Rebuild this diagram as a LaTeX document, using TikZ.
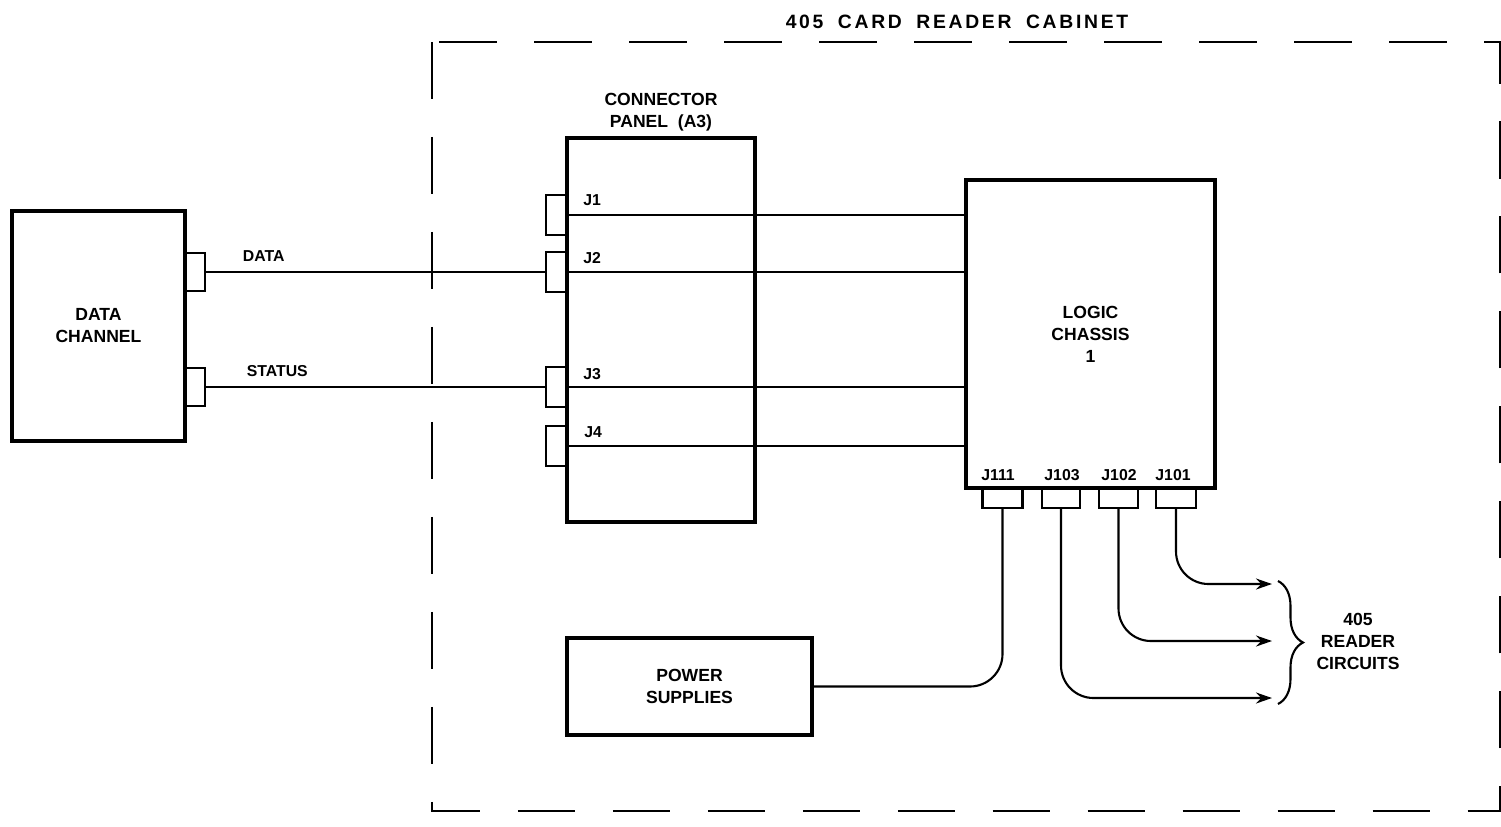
\documentclass[tikz,border=0pt]{standalone}
\usepackage{fontspec}
\setmainfont{Liberation Sans}
\newfontfamily\titlefont[LetterSpace=14,WordSpace=1.8]{Liberation Sans}
\usetikzlibrary{arrows.meta,decorations.pathreplacing}

\begin{document}
\begin{tikzpicture}[
  x=0.02cm, y=-0.02cm,
  >={Stealth[length=0.32cm,width=0.22cm]},
  box/.style={draw, line width=1.8pt, align=center, inner sep=0pt, font=\fontsize{10}{12.5}\selectfont\bfseries},
  tab/.style={draw, line width=1.2pt, inner sep=0pt},
  flow/.style={draw, line width=1.2pt},
  lbl/.style={font=\fontsize{10}{12.5}\selectfont\bfseries, align=center, inner sep=0pt},
  jlbl/.style={font=\fontsize{9}{11}\selectfont\bfseries, inner sep=0pt},
  cabinet/.style={draw, line width=1.4pt, dash pattern=on 1.15cm off 0.75cm}
]
  \useasboundingbox (0,0) rectangle (1501,826);

  % cabinet outline
  \draw[cabinet] (432,42) rectangle (1500,811);
  \node[lbl, font=\fontsize{11}{13}\selectfont\titlefont\bfseries] (ttl) at (957,22) {405 CARD READER CABINET};

  % main units
  \node[box, minimum width=3.46cm, minimum height=4.6cm] (dc) at (98.5,326) {DATA\\CHANNEL};
  \node[box, minimum width=3.76cm, minimum height=7.68cm] (cp) at (661,330) {};
  \node[lbl] (cpl) at (661,112) {CONNECTOR\\PANEL\ \ (A3)};
  \node[box, minimum width=4.98cm, minimum height=6.16cm] (lc) at (1090.5,334) {LOGIC\\CHASSIS\\1};
  \node[box, minimum width=4.9cm, minimum height=1.94cm] (ps) at (689.5,686.5) {POWER\\SUPPLIES};

  % connectors on the units
  \node[tab, minimum width=0.38cm, minimum height=0.76cm, anchor=west] (dcdata) at (185,272) {};
  \node[tab, minimum width=0.38cm, minimum height=0.76cm, anchor=west] (dcstat) at (185,387) {};
  \node[tab, minimum width=0.4cm, minimum height=0.8cm, anchor=east] (pj1) at (567,215) {};
  \node[tab, minimum width=0.4cm, minimum height=0.8cm, anchor=east] (pj2) at (567,272) {};
  \node[tab, minimum width=0.4cm, minimum height=0.8cm, anchor=east] (pj3) at (567,387) {};
  \node[tab, minimum width=0.4cm, minimum height=0.8cm, anchor=east] (pj4) at (567,446) {};
  \node[tab, minimum width=0.8cm, minimum height=0.38cm, anchor=north] (j111) at (1002.5,488) {};
  \node[tab, minimum width=0.76cm, minimum height=0.38cm, anchor=north] (j103) at (1061,488) {};
  \node[tab, minimum width=0.78cm, minimum height=0.38cm, anchor=north] (j102) at (1118.5,488) {};
  \node[tab, minimum width=0.8cm, minimum height=0.38cm, anchor=north] (j101) at (1176,488) {};

  \node[jlbl, anchor=base west] (lj1) at (583,205) {J1};
  \node[jlbl, anchor=base west] (lj2) at (583,263) {J2};
  \node[jlbl, anchor=base west] (lj3) at (583,379) {J3};
  \node[jlbl, anchor=base west] (lj4) at (584,437) {J4};
  \node[jlbl, anchor=base] (l111) at (998,480) {J111};
  \node[jlbl, anchor=base] (l103) at (1062,480) {J103};
  \node[jlbl, anchor=base] (l102) at (1119,480) {J102};
  \node[jlbl, anchor=base] (l101) at (1173,480) {J101};

  % cables
  \draw[flow] (dcdata.east) -- node[jlbl, above=0.18cm, pos=0.17] {DATA} (pj2.west);
  \draw[flow] (dcstat.east) -- node[jlbl, above=0.18cm, pos=0.21] {STATUS} (pj3.west);
  \draw[flow] (pj1.east) -- (pj1.east -| lc.west);
  \draw[flow] (pj2.east) -- (pj2.east -| lc.west);
  \draw[flow] (pj3.east) -- (pj3.east -| lc.west);
  \draw[flow] (pj4.east) -- (pj4.east -| lc.west);

  \coordinate (r1) at (1272,584);
  \coordinate (r2) at (1272,641);
  \coordinate (r3) at (1272,698);
  \draw[flow, rounded corners=0.65cm] (j111.south) |- (ps.east);
  \draw[flow, ->, rounded corners=0.65cm] (j101.south) |- (r1);
  \draw[flow, ->, rounded corners=0.65cm] (j102.south) |- (r2);
  \draw[flow, ->, rounded corners=0.65cm] (j103.south) |- (r3);

  % reader circuits
  \coordinate (b1) at (1278,581);
  \coordinate (b2) at (1278,704);
  \draw[flow, decorate, decoration={brace, amplitude=0.5cm}] (b1) -- (b2);
  \node[lbl] (rc) at (1358,641) {405\\READER\\CIRCUITS};
\end{tikzpicture}
\end{document}
